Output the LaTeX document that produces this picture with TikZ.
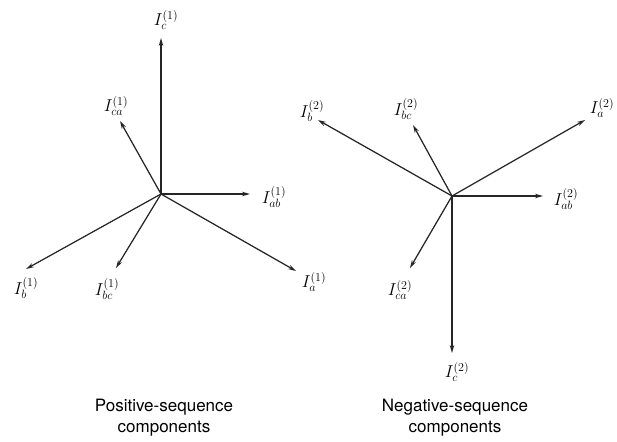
\documentclass[tikz,border=0pt]{standalone}
\usepackage{fontspec}
\setsansfont{TeX Gyre Heros}
\usetikzlibrary{arrows.meta}
\begin{document}
\begin{tikzpicture}[x=1pt,y=-1pt,
  vec/.style={line width=1.25pt,draw=black!85,-{Stealth[length=8pt,width=4.5pt]}},
  lab/.style={inner sep=0pt,font=\fontsize{18}{21}\selectfont},
  captext/.style={align=center,inner sep=0pt,font=\sffamily\fontsize{17}{21}\selectfont}]
\useasboundingbox (0,0) rectangle (617,441);
% left diagram
\coordinate (O1) at (161,194);
\coordinate (tc1) at (161,38);
\coordinate (tca1) at (120,121);
\coordinate (tab1) at (250,194);
\coordinate (ta1) at (296,271);
\coordinate (tb1) at (26,269);
\coordinate (tbc1) at (116,268);
\draw[vec] (O1) -- (tc1);
\draw[vec] (O1) -- (tca1);
\draw[vec] (O1) -- (tab1);
\draw[vec] (O1) -- (ta1);
\draw[vec] (O1) -- (tb1);
\draw[vec] (O1) -- (tbc1);
\node[lab] (Lc1) at (166,20) {$I_c^{(1)}$};
\node[lab] (Lca1) at (116,106) {$I_{ca}^{(1)}$};
\node[lab] (Lab1) at (274,197) {$I_{ab}^{(1)}$};
\node[lab] (La1) at (314,282) {$I_a^{(1)}$};
\node[lab] (Lb1) at (26,288) {$I_b^{(1)}$};
\node[lab] (Lbc1) at (107,289) {$I_{bc}^{(1)}$};
% right diagram
\coordinate (O2) at (452,196);
\coordinate (ta2) at (585,120);
\coordinate (tb2) at (318,120);
\coordinate (tc2) at (452,353);
\coordinate (tab2) at (543,196);
\coordinate (tbc2) at (413,125);
\coordinate (tca2) at (410,268);
\draw[vec] (O2) -- (ta2);
\draw[vec] (O2) -- (tb2);
\draw[vec] (O2) -- (tc2);
\draw[vec] (O2) -- (tab2);
\draw[vec] (O2) -- (tbc2);
\draw[vec] (O2) -- (tca2);
\node[lab] (La2) at (602,108) {$I_a^{(2)}$};
\node[lab] (Lb2) at (312,111) {$I_b^{(2)}$};
\node[lab] (Lc2) at (457,372) {$I_c^{(2)}$};
\node[lab] (Lab2) at (566,199) {$I_{ab}^{(2)}$};
\node[lab] (Lbc2) at (406,109) {$I_{bc}^{(2)}$};
\node[lab] (Lca2) at (400,290) {$I_{ca}^{(2)}$};
% captions
\node[captext] (C1) at (164,418) {Positive-sequence\\components};
\node[captext] (C2) at (455,418) {Negative-sequence\\components};
\end{tikzpicture}
\end{document}
